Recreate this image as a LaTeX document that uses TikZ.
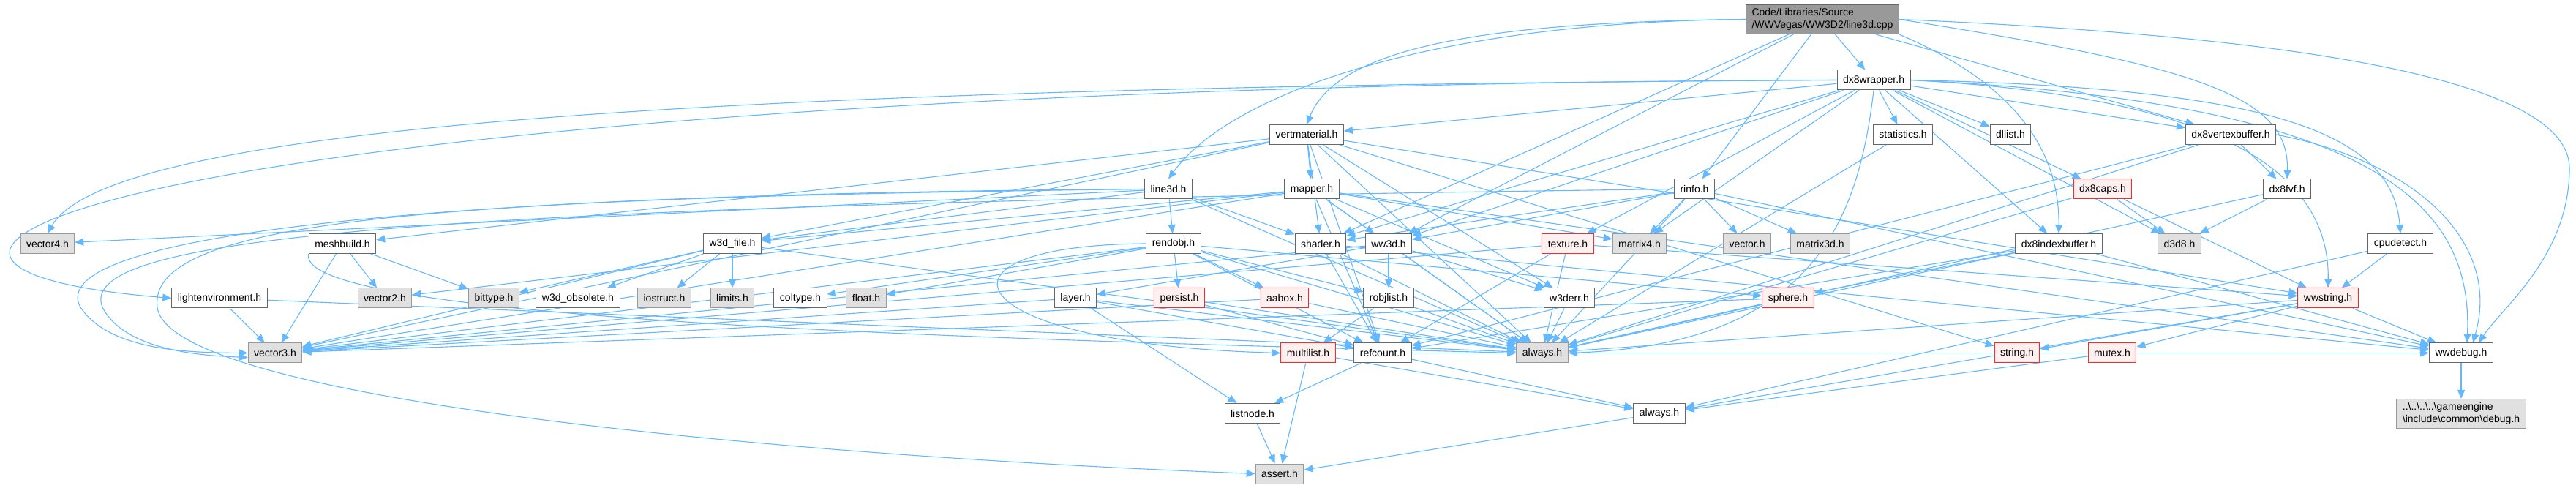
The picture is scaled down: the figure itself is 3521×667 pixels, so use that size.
\documentclass[tikz,border=0pt]{standalone}
\usepackage{fontspec}
\setmainfont{Liberation Sans}
\usetikzlibrary{arrows.meta,backgrounds}

\definecolor{edgeblue}{RGB}{99,184,255}
\definecolor{sysfill}{RGB}{224,224,224}
\definecolor{sysline}{RGB}{153,153,153}
\definecolor{redfill}{RGB}{255,240,240}
\definecolor{redline}{RGB}{255,40,40}
\definecolor{rootfill}{RGB}{153,153,153}
\definecolor{boxline}{RGB}{102,102,102}

\begin{document}
\begin{tikzpicture}[
    x=0.5pt, y=-0.5pt,
    >={Triangle[length=6pt,width=5pt]},
    font=\fontsize{7}{8.5}\selectfont,
    hdr/.style={draw=boxline, fill=white, line width=0.5pt, minimum height=13.5pt, inner xsep=4pt, inner ysep=1pt},
    syshdr/.style={hdr, draw=sysline, fill=sysfill},
    redhdr/.style={hdr, draw=redline, fill=redfill},
    mainfile/.style={hdr, fill=rootfill, align=left, inner ysep=2.5pt},
    inc/.style={->, draw=edgeblue, line width=0.55pt}
  ]
  \useasboundingbox (0,0) rectangle (3521,667);

  % row 0 - 2
  \node[mainfile] (root) at (2491,26.5) {Code/Libraries/Source\\/WWVegas/WW3D2/line3d.cpp};
  \node[hdr] (dxwrap) at (2561,109.5) {dx8wrapper.h};
  \node[hdr] (vertmat) at (1786,184) {vertmaterial.h};
  \node[hdr] (stats) at (2601,184) {statistics.h};
  \node[hdr] (dllist) at (2748,184) {dllist.h};
  \node[hdr] (dxvb) at (3049,184) {dx8vertexbuffer.h};

  % row 3
  \node[hdr] (line3d) at (1597,258.5) {line3d.h};
  \node[hdr] (mapper) at (1793,258.5) {mapper.h};
  \node[hdr] (rinfo) at (2316,258.5) {rinfo.h};
  \node[redhdr] (dxcaps) at (2874,258.5) {dx8caps.h};
  \node[hdr] (dxfvf) at (3126,258.5) {dx8fvf.h};

  % row 4
  \node[syshdr] (vec4) at (65,333) {vector4.h};
  \node[hdr] (meshb) at (468,333) {meshbuild.h};
  \node[hdr] (w3dfile) at (1001,333) {w3d\_file.h};
  \node[hdr] (rendobj) at (1604,333) {rendobj.h};
  \node[hdr] (shader) at (1805,333) {shader.h};
  \node[hdr] (ww3d) at (1898,333) {ww3d.h};
  \node[redhdr] (texture) at (2143,333) {texture.h};
  \node[syshdr] (mat4) at (2241,333) {matrix4.h};
  \node[syshdr] (vector) at (2388,333) {vector.h};
  \node[syshdr] (mat3d) at (2488,333) {matrix3d.h};
  \node[hdr] (dxib) at (2814,333) {dx8indexbuffer.h};
  \node[syshdr] (d3d8) at (2979,333) {d3d8.h};
  \node[hdr] (cpudet) at (3281,333) {cpudetect.h};

  % row 5
  \node[hdr] (lightenv) at (300,407.5) {lightenvironment.h};
  \node[syshdr] (vec2) at (526,407.5) {vector2.h};
  \node[syshdr] (bittype) at (675,407.5) {bittype.h};
  \node[hdr] (w3dobs) at (790,407.5) {w3d\_obsolete.h};
  \node[syshdr] (iostruct) at (908,407.5) {iostruct.h};
  \node[syshdr] (limits) at (1001,407.5) {limits.h};
  \node[hdr] (coltype) at (1094,407.5) {coltype.h};
  \node[syshdr] (float) at (1184,407.5) {float.h};
  \node[hdr] (layer) at (1470,407.5) {layer.h};
  \node[redhdr] (persist) at (1612,407.5) {persist.h};
  \node[redhdr] (aabox) at (1756,407.5) {aabox.h};
  \node[hdr] (robjlist) at (1898,407.5) {robjlist.h};
  \node[hdr] (w3derr) at (2145,407.5) {w3derr.h};
  \node[redhdr] (sphere) at (2444,407.5) {sphere.h};
  \node[redhdr] (wwstr) at (3182,407.5) {wwstring.h};

  % row 6 - 8
  \node[syshdr] (vec3) at (376,482.5) {vector3.h};
  \node[redhdr] (multil) at (1788,482.5) {multilist.h};
  \node[hdr] (refcnt) at (1890,482.5) {refcount.h};
  \node[syshdr] (alwaysg) at (2108,482.5) {always.h};
  \node[redhdr] (string) at (2757,482.5) {string.h};
  \node[redhdr] (mutex) at (2887,482.5) {mutex.h};
  \node[hdr] (wwdebug) at (3364,482.5) {wwdebug.h};
  \node[hdr] (listnode) at (1712,565) {listnode.h};
  \node[hdr] (alwaysw) at (2268,565) {always.h};
  \node[syshdr, align=left, inner ysep=2.5pt] (dbg) at (3364,565.5) {..\textbackslash..\textbackslash..\textbackslash..\textbackslash gameengine\\\textbackslash include\textbackslash common\textbackslash debug.h};
  \node[syshdr] (assert) at (1749,647.5) {assert.h};

  \begin{pgfonlayer}{background}
  % line3d.cpp
  \draw[inc] (root.west) .. controls (1950,30) and (1680,130) .. (line3d.north);
  \draw[inc] (root.west) .. controls (2050,30) and (1830,60) .. (vertmat.north);
  \draw[inc] (root) -- (dxwrap);
  \draw[inc] (root) -- (shader);
  \draw[inc] (root) -- (ww3d);
  \draw[inc] (root) -- (rinfo);
  \draw[inc] (root.south east) .. controls (2720,100) and (2815,180) .. (dxib.north);
  \draw[inc] (root) -- (dxvb);
  \draw[inc] (root.east) .. controls (3000,90) and (3130,130) .. (dxfvf.north);
  \draw[inc] (root.east) .. controls (3150,50) and (3512,110) .. (3512,230) .. controls (3512,350) and (3420,420) .. ([xshift=12pt]wwdebug.north);

  % dx8wrapper.h
  \draw[inc] (dxwrap) -- (vertmat);
  \draw[inc] (dxwrap.west) .. controls (1000,118) and (150,170) .. (vec4.north);
  \draw[inc] (dxwrap.west) .. controls (200,118) and (-350,360) .. (lightenv.west);
  \draw[inc] (dxwrap) -- (shader);
  \draw[inc] (dxwrap) -- (ww3d);
  \draw[inc] (dxwrap) -- (texture);
  \draw[inc] (dxwrap) -- (mat4);
  \draw[inc] (dxwrap.south) .. controls (2540,300) and (2480,470) .. (alwaysg.east);
  \draw[inc] (dxwrap) -- (stats);
  \draw[inc] (dxwrap) -- (dllist);
  \draw[inc] (dxwrap) -- (dxib);
  \draw[inc] (dxwrap) -- (dxcaps);
  \draw[inc] (dxwrap) -- (dxvb);
  \draw[inc] (dxwrap) -- (d3d8);
  \draw[inc] (dxwrap.east) .. controls (3100,120) and (3270,180) .. (cpudet.north);
  \draw[inc] (dxwrap.east) .. controls (3000,130) and (3185,220) .. (wwstr.north);
  \draw[inc] (dxwrap.east) .. controls (3250,140) and (3380,280) .. ([xshift=4pt]wwdebug.north);

  % vertmaterial.h
  \draw[inc] (vertmat) -- (mapper);
  \draw[inc] (vertmat) -- (meshb);
  \draw[inc] (vertmat) -- (w3dfile);
  \draw[inc] (vertmat) -- (vec3);
  \draw[inc] (vertmat) -- (shader);
  \draw[inc] (vertmat) -- (w3derr);
  \draw[inc] (vertmat) -- (alwaysg);
  \draw[inc] (vertmat) -- (refcnt);
  \draw[inc] (vertmat) -- (wwstr);
  \draw[inc] (vertmat) -- (string);

  % mapper.h
  \draw[inc] (mapper) -- (vec2);
  \draw[inc] (mapper) -- (vec3);
  \draw[inc] (mapper) -- (w3dfile);
  \draw[inc] (mapper) -- (ww3d);
  \draw[inc] (mapper) -- (w3derr);
  \draw[inc] (mapper) -- (mat4);
  \draw[inc] (mapper) -- (refcnt);
  \draw[inc] (mapper) -- (alwaysg);
  \draw[inc] (mapper) -- (wwdebug);

  % line3d.h
  \draw[inc] (line3d) -- (rendobj);
  \draw[inc] (line3d) -- (shader);
  \draw[inc] (line3d) -- (vec4);
  \draw[inc] (line3d) -- (w3dfile);
  \draw[inc] (line3d) -- (alwaysg);
  \draw[inc] (line3d.west) .. controls (500,265) and (60,330) .. (110,420) .. controls (150,480) and (260,482) .. (vec3.west);
  \draw[inc] (line3d.west) .. controls (600,270) and (200,300) .. (215,420) .. controls (230,540) and (1000,620) .. (assert.west);

  % rinfo.h
  \draw[inc] (rinfo) -- (mat4);
  \draw[inc] (rinfo) -- (vector);
  \draw[inc] (rinfo) -- (mat3d);
  \draw[inc] (rinfo) -- (ww3d);
  \draw[inc] (rinfo) -- (shader);
  \draw[inc] (rinfo) -- (alwaysg);
  \draw[inc] (rinfo) -- (wwdebug);
  \draw[inc] (rinfo.west) .. controls (600,280) and (100,320) .. (140,420) .. controls (170,478) and (270,486) .. ([yshift=-3pt]vec3.west);

  % dx8 headers
  \draw[inc] (dxcaps) -- (d3d8);
  \draw[inc] (dxcaps) -- (alwaysg);
  \draw[inc] (dxcaps) -- (wwstr);
  \draw[inc] (dxfvf) -- (d3d8);
  \draw[inc] (dxfvf) -- (alwaysg);
  \draw[inc] (dxvb) -- (dxfvf);
  \draw[inc] (dxvb) -- (alwaysg);
  \draw[inc] (dxvb) -- (refcnt);
  \draw[inc] (dxvb.east) .. controls (3300,220) and (3420,330) .. ([xshift=8pt]wwdebug.north);
  \draw[inc] (dxib) -- (sphere);
  \draw[inc] (dxib) -- (alwaysg);
  \draw[inc] (dxib) -- (refcnt);
  \draw[inc] (dxib) -- (wwdebug);
  \draw[inc] (stats) -- (alwaysg);
  \draw[inc] (cpudet) -- (wwstr);
  \draw[inc] (cpudet) -- (alwaysw);

  % row 4 headers
  \draw[inc] (meshb) -- (vec2);
  \draw[inc] (meshb) -- (vec3);
  \draw[inc] (meshb) -- (bittype);
  \draw[inc] (meshb.south west) .. controls (400,440) and (1400,465) .. (alwaysg.west);
  \draw[inc] (w3dfile) -- (bittype);
  \draw[inc] (w3dfile) -- (w3dobs);
  \draw[inc] (w3dfile) -- (iostruct);
  \draw[inc] (w3dfile) -- (limits);
  \draw[inc] (w3dfile) -- (alwaysg);
  \draw[inc] (w3dfile) -- (vec3);
  \draw[inc] (rendobj) -- (coltype);
  \draw[inc] (rendobj) -- (float);
  \draw[inc] (rendobj) -- (persist);
  \draw[inc] (rendobj) -- (aabox);
  \draw[inc] (rendobj) -- (robjlist);
  \draw[inc] (rendobj) -- (sphere);
  \draw[inc] (rendobj.west) .. controls (1250,335) and (1300,470) .. (multil.west);
  \draw[inc] (rendobj) -- (refcnt);
  \draw[inc] (rendobj) -- (alwaysg);
  \draw[inc] (rendobj) -- (vec3);
  \draw[inc] (shader) -- (alwaysg);
  \draw[inc] (shader) -- (refcnt);
  \draw[inc] (shader) -- (wwdebug);
  \draw[inc] (ww3d) -- (robjlist);
  \draw[inc] (ww3d) -- (w3derr);
  \draw[inc] (ww3d) -- (alwaysg);
  \draw[inc] (ww3d) -- (layer);
  \draw[inc] (ww3d) -- (vec3);
  \draw[inc] (texture) -- (alwaysg);
  \draw[inc] (texture) -- (refcnt);
  \draw[inc] (texture) -- (wwstr);
  \draw[inc] (texture) -- (vec3);

  % row 5 headers
  \draw[inc] (lightenv) -- (vec3);
  \draw[inc] (lightenv) -- (alwaysg);
  \draw[inc] (layer) -- (listnode);
  \draw[inc] (layer) -- (alwaysg);
  \draw[inc] (layer) -- (refcnt);
  \draw[inc] (layer) -- (vec3);
  \draw[inc] (persist) -- (alwaysg);
  \draw[inc] (persist) -- (refcnt);
  \draw[inc] (aabox) -- (alwaysg);
  \draw[inc] (aabox) -- (vec3);
  \draw[inc] (robjlist) -- (multil);
  \draw[inc] (robjlist) -- (alwaysg);
  \draw[inc] (w3derr) -- (alwaysg);
  \draw[inc] (sphere) -- (alwaysg);
  \draw[inc] (sphere) -- (vec3);
  \draw[inc] (wwstr) -- (alwaysg);
  \draw[inc] (wwstr) -- (string);
  \draw[inc] (wwstr) -- (mutex);
  \draw[inc] (wwstr) -- (wwdebug);
  \draw[inc] (wwstr) -- (alwaysw);

  % lower rows
  \draw[inc] (multil) -- (alwaysw);
  \draw[inc] (multil) -- (assert);
  \draw[inc] (refcnt) -- (listnode);
  \draw[inc] (refcnt) -- (alwaysw);
  \draw[inc] (refcnt) -- (wwdebug);
  \draw[inc] (listnode) -- (assert);
  \draw[inc] (alwaysw) -- (assert);
  \draw[inc] (mutex) -- (alwaysw);
  \draw[inc] (wwdebug) -- (dbg);
  \end{pgfonlayer}
\end{tikzpicture}
\end{document}
